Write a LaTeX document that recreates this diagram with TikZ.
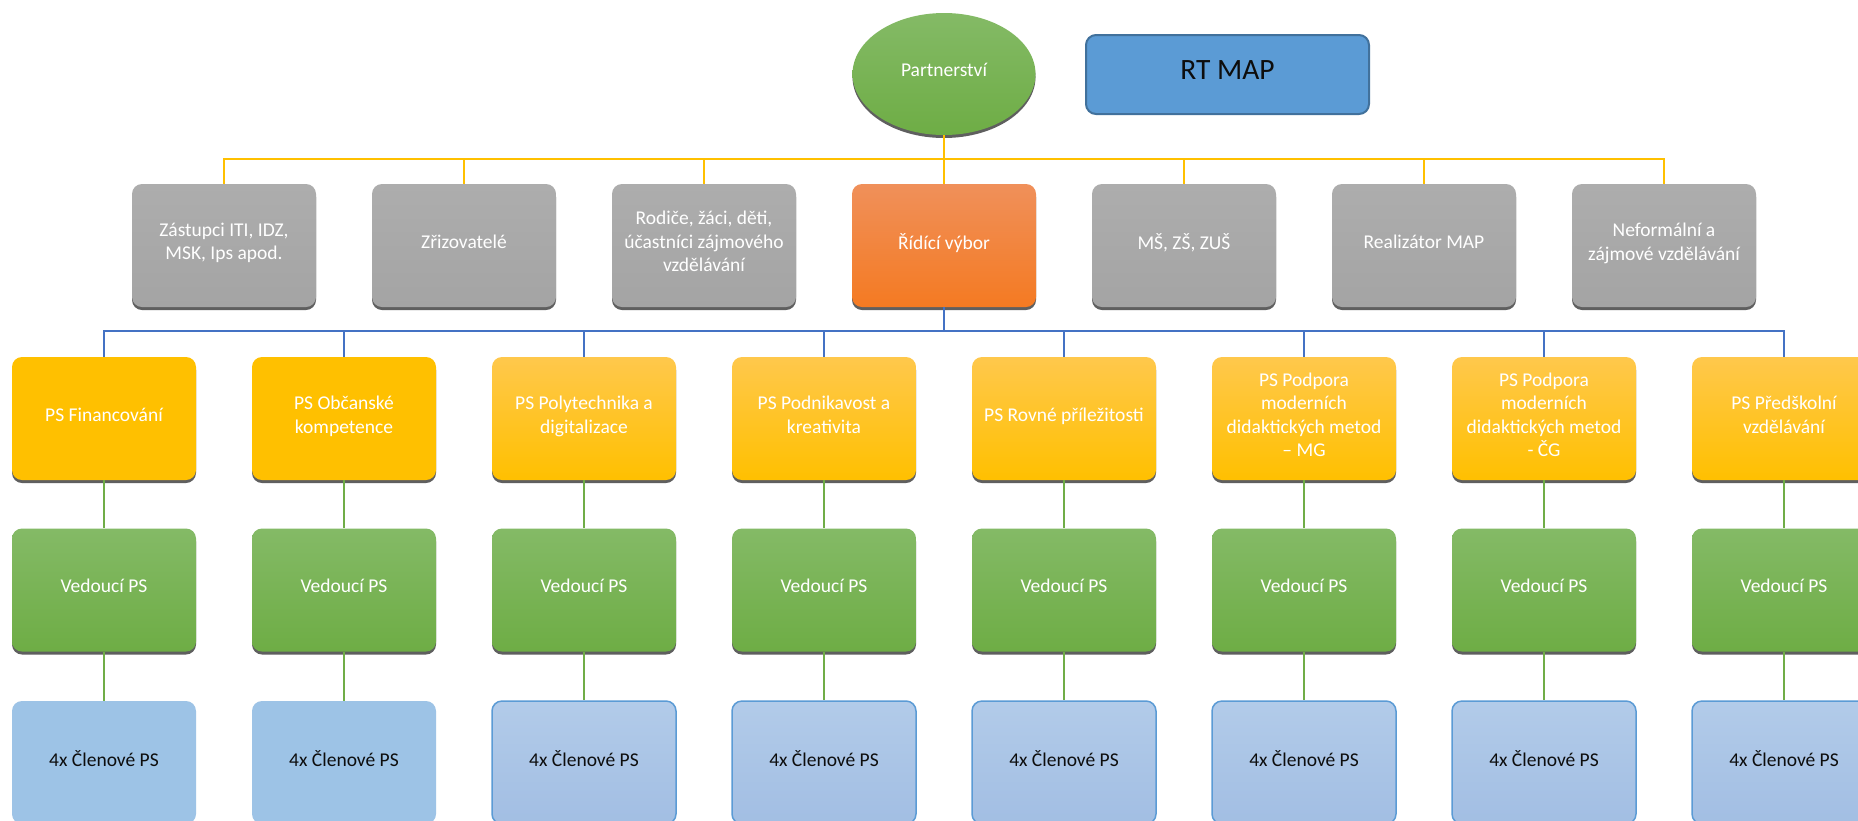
\documentclass[tikz,border=0pt]{standalone}
\usepackage{fontspec}
\setmainfont{Carlito}
\usetikzlibrary{shapes.geometric,shadows}
\definecolor{ylwline}{HTML}{FFC000}
\definecolor{bluline}{HTML}{4472C4}
\definecolor{grnline}{HTML}{70AD47}
\definecolor{shadowgray}{HTML}{5F5F5F}
\definecolor{grayT}{HTML}{ADADAD}
\definecolor{grayB}{HTML}{A4A4A4}
\definecolor{orT}{HTML}{F0905A}
\definecolor{orB}{HTML}{F47A22}
\definecolor{ylwsolid}{HTML}{FFC000}
\definecolor{ylwT}{HTML}{FFC84C}
\definecolor{ylwB}{HTML}{FFC000}
\definecolor{grnT}{HTML}{84BA66}
\definecolor{grnB}{HTML}{6EAD45}
\definecolor{blusolid}{HTML}{9DC3E6}
\definecolor{bluT}{HTML}{B2CBE9}
\definecolor{bluB}{HTML}{A2BEE3}
\definecolor{bluborder}{HTML}{5B9BD5}
\definecolor{rtfill}{HTML}{5B9BD5}
\definecolor{rtborder}{HTML}{41719C}
\definecolor{darktext}{HTML}{0D0D0D}
\tikzset{
  shad/.style={drop shadow={shadow xshift=0pt, shadow yshift=-3pt, fill=shadowgray, opacity=1}},
  box/.style={rectangle, rounded corners=10pt, minimum width=184pt, minimum height=123pt,
    inner sep=2pt, align=center, text=white, text depth=8pt, font=\fontsize{19.5}{23.5}\selectfont},
  graybox/.style={box, shad, top color=grayT, bottom color=grayB},
  orbox/.style={box, shad, top color=orT, bottom color=orB},
  ybox/.style={box, shad, fill=ylwsolid},
  ygbox/.style={box, shad, top color=ylwT, bottom color=ylwB},
  gbox/.style={box, shad, top color=grnT, bottom color=grnB},
  mbox/.style={box, text=darktext, fill=blusolid},
  mgbox/.style={box, text=darktext, top color=bluT, bottom color=bluB, draw=bluborder, line width=1.5pt},
  yline/.style={draw=ylwline, line width=2.8pt},
  bline/.style={draw=bluline, line width=2.8pt},
  gline/.style={draw=grnline, line width=2.8pt},
}
\begin{document}
\begin{tikzpicture}[x=1pt,y=-1pt]
\useasboundingbox (0,0) rectangle (1858,820);
\fill[white] (0,0) rectangle (1858,820);
\clip (0,0) rectangle (1858,820);

% top
\node[ellipse, shad, minimum width=183pt, minimum height=122pt, inner sep=0pt, text depth=9pt,
  top color=grnT, bottom color=grnB, text=white, font=\fontsize{19.5}{23.5}\selectfont] (P) at (944,74) {Partnerství};
\node[rectangle, rounded corners=10pt, fill=rtfill, draw=rtborder, line width=2pt, text depth=9pt,
  minimum width=283pt, minimum height=79pt, text=darktext, font=\fontsize{29.5}{35}\selectfont] (RT) at (1227.5,74.5) {RT MAP};

% row 2
\node[graybox] (g1) at (224,245.5) {Zástupci ITI, IDZ,\\MSK, Ips apod.};
\node[graybox] (g2) at (464,245.5) {Zřizovatelé};
\node[graybox] (g3) at (704,245.5) {Rodiče, žáci, děti,\\účastníci zájmového\\vzdělávání};
\node[orbox]   (g4) at (944,245.5) {Řídící výbor};
\node[graybox] (g5) at (1184,245.5) {MŠ, ZŠ, ZUŠ};
\node[graybox] (g6) at (1424,245.5) {Realizátor MAP};
\node[graybox] (g7) at (1664,245.5) {Neformální a\\zájmové vzdělávání};

% row 3
\node[ybox]  (y1) at (104,418.5) {PS Financování};
\node[ybox]  (y2) at (344,418.5) {PS Občanské\\kompetence};
\node[ygbox] (y3) at (584,418.5) {PS Polytechnika a\\digitalizace};
\node[ygbox] (y4) at (824,418.5) {PS Podnikavost a\\kreativita};
\node[ygbox] (y5) at (1064,418.5) {PS Rovné příležitosti};
\node[ygbox] (y6) at (1304,418.5) {PS Podpora\\moderních\\didaktických metod\\– MG};
\node[ygbox] (y7) at (1544,418.5) {PS Podpora\\moderních\\didaktických metod\\- ČG};
\node[ygbox] (y8) at (1784,418.5) {PS Předškolní\\vzdělávání};

% row 4
\foreach \i/\x in {1/104,2/344,3/584,4/824,5/1064,6/1304,7/1544,8/1784}{
  \node[gbox] (v\i) at (\x,590) {Vedoucí PS};
}
% row 5
\node[mbox] (m1) at (104,762.5) {4x Členové PS};
\node[mbox] (m2) at (344,762.5) {4x Členové PS};
\foreach \i/\x in {3/584,4/824,5/1064,6/1304,7/1544,8/1784}{
  \node[mgbox] (m\i) at (\x,762.5) {4x Členové PS};
}

% connectors
\coordinate (ybus) at (944,159);
\foreach \g in {g1,g2,g3,g4,g5,g6,g7}{
  \draw[yline] (P.south) -- (P.south |- ybus) -| (\g.north);
}
\coordinate (bbus) at (944,331);
\foreach \y in {y1,y2,y3,y4,y5,y6,y7,y8}{
  \draw[bline] (g4.south) -- (g4.south |- bbus) -| (\y.north);
}
\foreach \i in {1,...,8}{
  \draw[gline] (y\i.south) -- (v\i.north);
  \draw[gline] (v\i.south) -- (m\i.north);
}
\end{tikzpicture}
\end{document}
